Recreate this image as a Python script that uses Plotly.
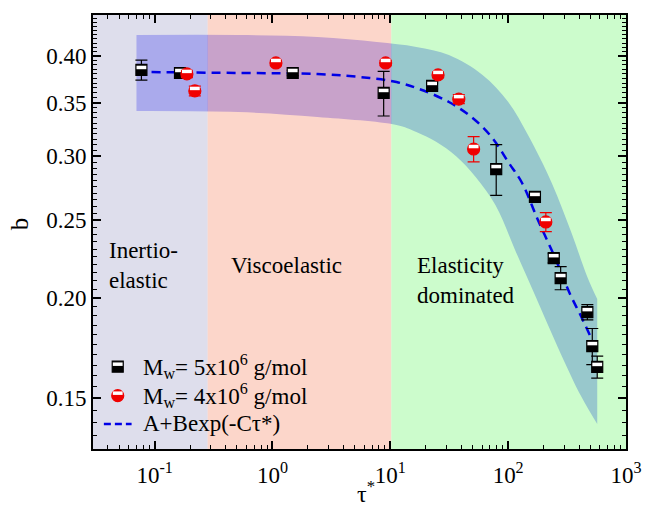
import plotly.graph_objects as go

# ---- measured data -------------------------------------------------------
# Mw = 5x10^6 g/mol
tau_5M = [0.0773, 0.1643, 1.486, 8.785, 22.64, 79.2, 168.8, 243.7, 279.0, 469.9, 517.6, 570.0]
b_5M = [0.3843, 0.381, 0.381, 0.3598, 0.3671, 0.2893, 0.2671, 0.2241, 0.2117, 0.1920, 0.1742, 0.1641]
err_5M = [0.011, 0.003, 0.003, 0.023, 0.003, 0.021, 0.003, 0.003, 0.007, 0.0042, 0.009, 0.0052]

# Mw = 4x10^6 g/mol
tau_4M = [0.188, 0.2195, 1.070, 9.13, 25.42, 38.14, 50.95, 208.8]
b_4M = [0.3800, 0.3619, 0.3921, 0.3921, 0.3789, 0.3535, 0.3064, 0.2486]
err_4M = [0.004, 0.005, 0.003, 0.003, 0.003, 0.0045, 0.011, 0.0068]

# fitted curve A+Bexp(-C tau*)
fit_tau = [0.0702, 0.5136, 2.409, 6.705, 11.29, 17.62, 31.44, 49.97, 73.55, 100.2,
           131.3, 178.9, 248.5, 331.9, 418.5, 538.0]
fit_b = [0.3821, 0.3810, 0.3799, 0.3755, 0.3712, 0.3639, 0.3506, 0.3349, 0.3162, 0.2952,
         0.2780, 0.2500, 0.2248, 0.2028, 0.1893, 0.1748]

# confidence band
band_tau_hi = [0.0702, 0.5136, 2.409, 7.675, 16.62, 31.44, 60.62, 100.2, 147.4, 234.4,
               345.1, 469.9, 570.0]
band_hi = [0.4248, 0.4248, 0.4224, 0.4164, 0.4106, 0.4011, 0.3789, 0.3506, 0.3189, 0.2780,
           0.2408, 0.2124, 0.1993]
band_tau_lo = [0.0702, 0.5136, 2.409, 11.29, 16.62, 24.46, 35.99, 52.97, 77.96, 114.7,
               168.8, 263.2, 418.5, 570.0]
band_lo = [0.3417, 0.3407, 0.3359, 0.3283, 0.3218, 0.3128, 0.3003, 0.2828, 0.2609, 0.2293,
           0.2016, 0.1738, 0.1506, 0.1393]

# flow regimes: boundaries in tau*
regime_edges = [0.282, 10.2]
regime_names = ["Inertio-<br>elastic", "Viscoelastic", "Elasticity<br>dominated"]
regime_colors = ["rgba(200,200,223,0.6)", "rgba(250,187,167,0.6)", "rgba(170,250,170,0.6)"]

x_ticks = [0.1, 1, 10, 100, 1000]
x_ticktext = ["10<sup>-1</sup>", "10<sup>0</sup>", "10<sup>1</sup>", "10<sup>2</sup>", "10<sup>3</sup>"]
y_ticks = [0.15, 0.20, 0.25, 0.30, 0.35, 0.40]

legend_labels = ["M<sub>w</sub>= 5x10<sup>6</sup> g/mol",
                 "M<sub>w</sub>= 4x10<sup>6</sup> g/mol",
                 "A+Bexp(-Cτ*)"]

# ---- figure -------------------------------------------------------------
FONT = "Liberation Serif"
x_range = [-1.5226, 3.0]
y_range = [-0.88705, -0.34691]
x_lo, x_hi = 10 ** x_range[0], 10 ** x_range[1]
y_lo, y_hi = 10 ** y_range[0], 10 ** y_range[1]

fig = go.Figure()

# band (drawn first, tinted by the translucent regime panels above it)
fig.add_trace(go.Scatter(x=band_tau_lo, y=band_lo, mode="lines", line=dict(width=0, shape="spline"),
                         hoverinfo="skip", showlegend=False))
fig.add_trace(go.Scatter(x=band_tau_hi, y=band_hi, mode="lines", line=dict(width=0, shape="spline"),
                         fill="tonexty", fillcolor="rgb(125,125,255)",
                         hoverinfo="skip", showlegend=False))

# regime panels
edges = [x_lo] + regime_edges + [x_hi]
for i, col in enumerate(regime_colors):
    x0, x1 = edges[i], edges[i + 1]
    fig.add_trace(go.Scatter(x=[x0, x1, x1, x0, x0], y=[y_lo, y_lo, y_hi, y_hi, y_lo],
                             mode="lines", line=dict(width=0), fill="toself", fillcolor=col,
                             hoverinfo="skip", showlegend=False))

# fitted curve
fig.add_trace(go.Scatter(x=fit_tau, y=fit_b, mode="lines",
                         line=dict(color="#0000E6", width=2.5, dash="9px,6px", shape="spline"),
                         showlegend=False))

# Mw = 5x10^6: half-filled squares
fig.add_trace(go.Scatter(x=tau_5M, y=b_5M, mode="markers",
                         error_y=dict(type="data", array=err_5M, color="black", thickness=1.2, width=6),
                         marker=dict(symbol="square", size=11, color="black",
                                     line=dict(color="black", width=1.2)),
                         showlegend=False))
fig.add_trace(go.Scatter(x=tau_5M, y=b_5M, mode="markers",
                         marker=dict(symbol="line-ew", size=7, angle=180, standoff=2.5,
                                     line=dict(color="white", width=3.5)),
                         hoverinfo="skip", showlegend=False))

# Mw = 4x10^6: half-filled circles
fig.add_trace(go.Scatter(x=tau_4M, y=b_4M, mode="markers",
                         error_y=dict(type="data", array=err_4M, color="#F00000", thickness=1.2, width=6),
                         marker=dict(symbol="circle", size=12, color="#F00000",
                                     line=dict(color="#F00000", width=1.2)),
                         showlegend=False))
fig.add_trace(go.Scatter(x=tau_4M, y=b_4M, mode="markers",
                         marker=dict(symbol="line-ew", size=7, angle=180, standoff=2.5,
                                     line=dict(color="white", width=3.5)),
                         hoverinfo="skip", showlegend=False))

# legend keys on an overlay frame spanning [0, 1] x [0, 1]
fig.add_trace(go.Scatter(x=[0.0464], y=[0.1897], mode="markers", xaxis="x2", yaxis="y2",
                         marker=dict(symbol="square", size=11, color="black",
                                     line=dict(color="black", width=1.2)),
                         hoverinfo="skip", showlegend=False))
fig.add_trace(go.Scatter(x=[0.0464], y=[0.1897], mode="markers", xaxis="x2", yaxis="y2",
                         marker=dict(symbol="line-ew", size=7, angle=180, standoff=2.5,
                                     line=dict(color="white", width=3.5)),
                         hoverinfo="skip", showlegend=False))
fig.add_trace(go.Scatter(x=[0.0464], y=[0.1229], mode="markers", xaxis="x2", yaxis="y2",
                         marker=dict(symbol="circle", size=12, color="#F00000",
                                     line=dict(color="#F00000", width=1.2)),
                         hoverinfo="skip", showlegend=False))
fig.add_trace(go.Scatter(x=[0.0464], y=[0.1229], mode="markers", xaxis="x2", yaxis="y2",
                         marker=dict(symbol="line-ew", size=7, angle=180, standoff=2.5,
                                     line=dict(color="white", width=3.5)),
                         hoverinfo="skip", showlegend=False))
fig.add_trace(go.Scatter(x=[0.0204, 0.0724], y=[0.0576, 0.0576], mode="lines", xaxis="x2", yaxis="y2",
                         line=dict(color="#0000E6", width=2.5, dash="7px,4px"),
                         hoverinfo="skip", showlegend=False))

annotations = []
legend_y = [0.191, 0.124, 0.058]
for lbl, ly in zip(legend_labels, legend_y):
    annotations.append(dict(text=lbl, x=0.0909, y=ly, xref="paper", yref="paper",
                            xanchor="left", yanchor="middle", showarrow=False,
                            font=dict(family=FONT, size=23, color="black")))

# regime labels
regime_pos = [(0.026, 0.4217), (0.256, 0.4217), (0.605, 0.389)]
for name, (px, py) in zip(regime_names, regime_pos):
    annotations.append(dict(text=name, x=px, y=py, xref="paper", yref="paper",
                            xanchor="left", yanchor="middle", align="left", showarrow=False,
                            font=dict(family=FONT, size=23, color="black")))

# axis titles
annotations.append(dict(text="b", x=-0.139, y=0.52, xref="paper", yref="paper", textangle=-90,
                        xanchor="center", yanchor="middle",
                        showarrow=False, font=dict(family=FONT, size=25, color="black")))
annotations.append(dict(text="τ<sup>*</sup>", x=0.512, y=-0.098, xref="paper", yref="paper",
                        xanchor="center", yanchor="middle",
                        showarrow=False, font=dict(family=FONT, size=24, color="black")))

x_minor = [m * 10 ** k for k in range(-2, 3) for m in range(2, 10)]
y_minor = [round(0.125 + 0.005 * i, 3) for i in range(66)]

axis_common = dict(showline=True, linecolor="black", linewidth=2, mirror="allticks",
                   ticks="inside", ticklen=8, tickwidth=1.5, tickcolor="black",
                   showgrid=False, zeroline=False,
                   tickfont=dict(family=FONT, size=23, color="black"))

fig.update_layout(
    width=654, height=509,
    margin=dict(l=93, r=22, t=15, b=60),
    paper_bgcolor="white", plot_bgcolor="white",
    showlegend=False,
    xaxis=dict(type="log", range=x_range, tickmode="array", tickvals=x_ticks, ticktext=x_ticktext,
               ticklabelstandoff=4,
               minor=dict(ticks="inside", ticklen=4, tickwidth=1, tickcolor="black",
                          tickmode="array", tickvals=x_minor),
               **axis_common),
    yaxis=dict(type="log", range=y_range, tickmode="array", tickvals=y_ticks, tickformat=".2f",
               minor=dict(ticks="inside", ticklen=4, tickwidth=1, tickcolor="black",
                          tickmode="array", tickvals=y_minor),
               **axis_common),
    xaxis2=dict(overlaying="x", anchor="y2", range=[0, 1], visible=False),
    yaxis2=dict(overlaying="y", anchor="x2", range=[0, 1], visible=False),
    annotations=annotations,
)

fig.write_html("out.html")
